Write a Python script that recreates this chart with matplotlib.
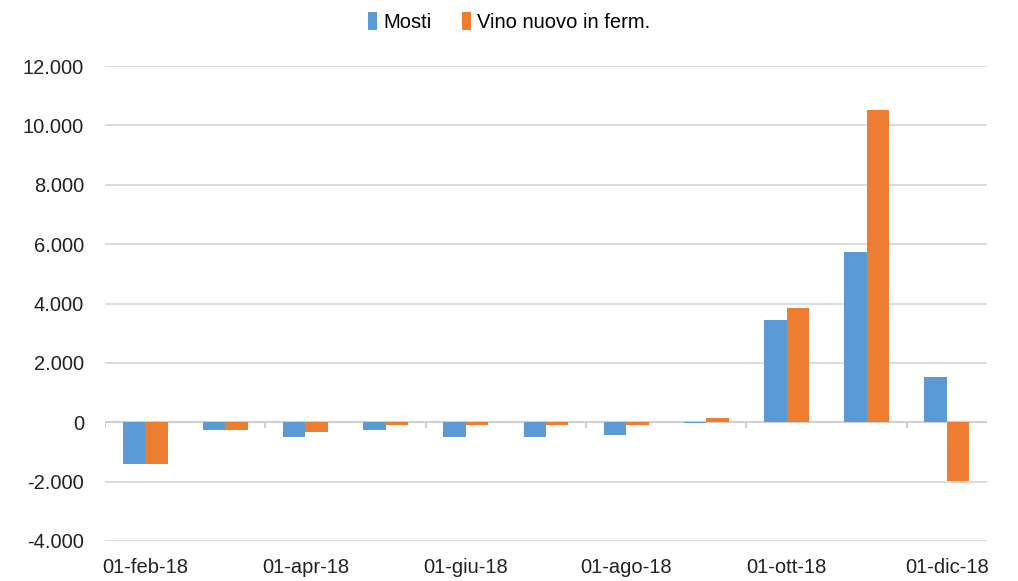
import matplotlib.pyplot as plt
import numpy as np

# Monthly values
months = ["01-feb-18", "01-mar-18", "01-apr-18", "01-mag-18", "01-giu-18", "01-lug-18",
          "01-ago-18", "01-set-18", "01-ott-18", "01-nov-18", "01-dic-18"]
mosti = [-1390, -250, -500, -250, -500, -500, -420, -30, 3450, 5720, 1510]
vino = [-1390, -250, -330, -100, -100, -80, -80, 140, 3860, 10510, -1980]
yticks = [-4000, -2000, 0, 2000, 4000, 6000, 8000, 10000, 12000]

plt.rcParams['font.family'] = ['Liberation Sans', 'DejaVu Sans']

fig = plt.figure(figsize=(10.18, 5.81), dpi=100)
ax = fig.add_axes([105 / 1018, 40 / 581, 882 / 1018, 475 / 581])

x = np.arange(len(months))
w = 0.28
ax.bar(x - w / 2, mosti, w, color='#5B9BD5', label='Mosti', zorder=3)
ax.bar(x + w / 2, vino, w, color='#ED7D31', label='Vino nuovo in ferm.', zorder=3)

ax.set_xlim(-0.5, len(months) - 0.5)
ax.set_ylim(-4000, 12000)
ax.set_yticks(yticks)
ax.set_yticklabels([f"{v:,}".replace(",", ".") for v in yticks], fontsize=14.5, color='#222222')
ax.set_xticks(x[::2])
ax.set_xticklabels(months[::2], fontsize=14.5, color='#222222')
ax.tick_params(length=0, pad=15)
ax.tick_params(axis='x', pad=12)

ax.grid(axis='y', color='#d9d9d9', linewidth=1.3, zorder=0)
for s in ax.spines.values():
    s.set_visible(False)

# zero line with category tick marks
ax.axhline(0, color='#d0d0d0', linewidth=1.5, zorder=2)
ax.vlines(np.arange(-0.5, len(months) - 1, 2), -200, 0, color='#d0d0d0', linewidth=1.5, zorder=2)

fig.legend(loc='upper center', bbox_to_anchor=(0.5, 1.01), ncol=2, frameon=False,
           fontsize=14.5, handlelength=0.45, handleheight=1.0, handletextpad=0.3, columnspacing=1.5)

fig.savefig('out.png', dpi=100)
